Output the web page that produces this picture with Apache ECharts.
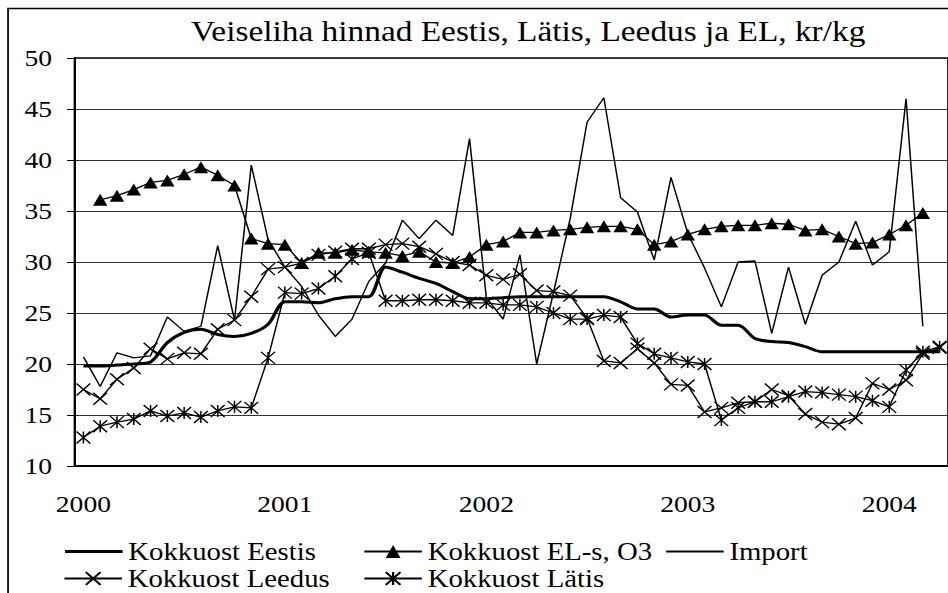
<!DOCTYPE html>
<html>
<head>
<meta charset="utf-8">
<script src="https://cdn.jsdelivr.net/npm/echarts@6/dist/echarts.min.js"></script>
<style>
html, body { margin: 0; padding: 0; background: #fff; overflow: hidden; }
/* the source image is stretched horizontally, so the chart is drawn narrower and scaled */
#chart { width: 824px; height: 593px; transform: scaleX(1.1505); transform-origin: 0 0; }
</style>
</head>
<body>
<div id="chart"></div>
<script>
const yearLabels = ['2000', '2001', '2002', '2003', '2004'];
const months = [];
for (let i = 0; i < 52; i++) {
    months.push(yearLabels[Math.floor(i / 12)] + '-' + String(i % 12 + 1).padStart(2, '0'));
}

const eestis = [19.8, 19.8, 19.9, 20.0, 20.2, 22.1, 23.1, 23.4, 22.9, 22.7, 23.0, 23.9,
    26.1, 26.1, 26.0, 26.4, 26.6, 26.6, 29.5, 29.0, 28.4, 27.9, 27.1, 26.4,
    26.4, 26.5, 26.6, 26.6, 26.6, 26.6, 26.6, 26.6, 26.1, 25.4, 25.4, 24.6,
    24.8, 24.8, 23.8, 23.8, 22.5, 22.2, 22.1, 21.7, 21.2, 21.2, 21.2, 21.2,
    21.2, 21.2, 21.2, 21.2];
const el = [null, 36.1, 36.5, 37.1, 37.8, 38.0, 38.6, 39.3, 38.5, 37.5, 32.3, 31.8,
    31.7, 29.9, 30.9, 30.9, 31.2, 31.0, 30.9, 30.6, 31.0, 30.0, 29.9, 30.5,
    31.7, 32.0, 32.9, 32.9, 33.1, 33.2, 33.4, 33.5, 33.5, 33.2, 31.7, 32.0,
    32.7, 33.2, 33.5, 33.6, 33.6, 33.8, 33.7, 33.1, 33.2, 32.5, 31.8, 31.9,
    32.7, 33.6, 34.8, null];
const importPrice = [20.7, 17.8, 21.1, 20.6, 20.8, 24.6, 23.2, 23.7, 31.6, 24.3, 39.5, 32.2,
    29.5, 27.6, 24.8, 22.7, 24.4, 28.1, 29.9, 34.1, 32.3, 34.1, 32.6, 42.1,
    26.5, 24.4, 30.7, 20.0, 27.0, 34.3, 43.7, 46.1, 36.3, 34.9, 30.2, 38.3,
    32.8, 29.4, 25.6, 30.0, 30.1, 23.0, 29.5, 23.9, 28.7, 30.0, 34.0, 29.7,
    31.0, 46.0, 23.7, null];
const leedus = [17.5, 16.6, 18.5, 19.6, 21.5, 20.5, 21.1, 21.0, 23.4, 24.3, 26.6, 29.3,
    29.5, 29.9, 30.7, 31.0, 31.3, 31.3, 31.7, 31.8, 31.5, 30.8, 30.0, 29.7,
    28.7, 28.3, 28.8, 27.2, 27.1, 26.7, 24.5, 20.3, 20.1, 21.5, 20.1, 18.0,
    17.9, 15.3, 15.7, 16.2, 16.3, 17.5, 16.9, 15.1, 14.3, 14.1, 14.7, 18.1,
    17.5, 18.4, 21.0, 21.6];
const latis = [12.8, 13.9, 14.3, 14.6, 15.4, 14.9, 15.2, 14.8, 15.4, 15.8, 15.7, 20.6,
    27.0, 26.9, 27.4, 28.6, 30.3, 30.9, 26.2, 26.2, 26.3, 26.3, 26.2, 26.0,
    26.0, 25.8, 25.8, 25.6, 25.0, 24.4, 24.4, 24.8, 24.6, 22.0, 21.0, 20.6,
    20.2, 20.0, 14.5, 15.7, 16.3, 16.3, 16.8, 17.3, 17.2, 17.0, 16.8, 16.4,
    15.8, 19.4, 21.2, 21.7];

const font = 'Liberation Serif';
const crossSymbol = 'path://M0,0L10,10M10,0L0,10';
const starSymbol = 'path://M0,0L10,10M10,0L0,10M5,0L5,10';

const chart = echarts.init(document.getElementById('chart'), null, {renderer: 'svg'});

// one legend per entry so the two rows line up in columns like the original
function legendAt(item, left, top) {
    return {
        left: left, top: top, itemWidth: 50, itemHeight: 16, padding: 0,
        selectedMode: false, data: [item],
        textStyle: {fontFamily: font, fontSize: 25, lineHeight: 24, color: '#000'}
    };
}

chart.setOption({
    animation: false,
    backgroundColor: '#fff',
    title: {
        text: 'Veiseliha hinnad Eestis, Lätis, Leedus ja EL, kr/kg',
        left: 161, top: 12,
        textStyle: {fontFamily: font, fontSize: 29, fontWeight: 'normal', color: '#000'}
    },
    graphic: [{
        type: 'rect', silent: true,
        shape: {x: 7, y: 8.5, width: 1000, height: 800},
        style: {fill: 'none', stroke: '#000', lineWidth: 1.5}
    }],
    legend: [
        legendAt({name: 'Kokkuost Eestis', itemStyle: {opacity: 0}, lineStyle: {width: 3}}, 55, 539),
        legendAt('Kokkuost EL-s, O3', 315.7, 539),
        legendAt({name: 'Import', itemStyle: {opacity: 0}}, 578, 539),
        legendAt('Kokkuost Leedus', 55, 566),
        legendAt('Kokkuost Lätis', 315.7, 566)
    ],
    grid: {left: 65.2, right: -1, top: 58, bottom: 127, show: true, borderColor: '#000', borderWidth: 1.5},
    xAxis: {
        type: 'category', data: months, boundaryGap: true,
        axisLine: {lineStyle: {color: '#000', width: 2}},
        axisTick: {interval: 1, length: 7, lineStyle: {color: '#000', width: 1}},
        axisLabel: {
            interval: 11, margin: 26, color: '#000', fontFamily: font, fontSize: 24,
            formatter: (v, i) => yearLabels[Math.floor(i / 12)]
        },
        splitLine: {show: false}
    },
    yAxis: {
        type: 'value', min: 10, max: 50, interval: 5,
        axisLine: {show: true, lineStyle: {color: '#000', width: 2}},
        axisTick: {show: true, length: 7, lineStyle: {color: '#000', width: 1}},
        axisLabel: {margin: 20, color: '#000', fontFamily: font, fontSize: 24},
        splitLine: {lineStyle: {color: '#333', width: 1}}
    },
    series: [
        {
            name: 'Kokkuost Eestis', type: 'line', data: eestis, symbol: 'none', smooth: 0.3,
            lineStyle: {color: '#000', width: 3}, itemStyle: {color: '#000'}
        },
        {
            name: 'Kokkuost EL-s, O3', type: 'line', data: el, symbol: 'triangle', symbolSize: [12.5, 12],
            showAllSymbol: true,
            lineStyle: {color: '#000', width: 1.3}, itemStyle: {color: '#000'}
        },
        {
            name: 'Import', type: 'line', data: importPrice, symbol: 'none',
            lineStyle: {color: '#000', width: 1.3}, itemStyle: {color: '#000'}
        },
        {
            name: 'Kokkuost Leedus', type: 'line', data: leedus, symbol: crossSymbol, symbolSize: 12,
            showAllSymbol: true,
            lineStyle: {color: '#000', width: 1.3},
            itemStyle: {color: '#000', borderColor: '#000', borderWidth: 1.3}
        },
        {
            name: 'Kokkuost Lätis', type: 'line', data: latis, symbol: starSymbol, symbolSize: 12,
            showAllSymbol: true,
            lineStyle: {color: '#000', width: 1.3},
            itemStyle: {color: '#000', borderColor: '#000', borderWidth: 1.3}
        }
    ]
});
</script>
</body>
</html>
